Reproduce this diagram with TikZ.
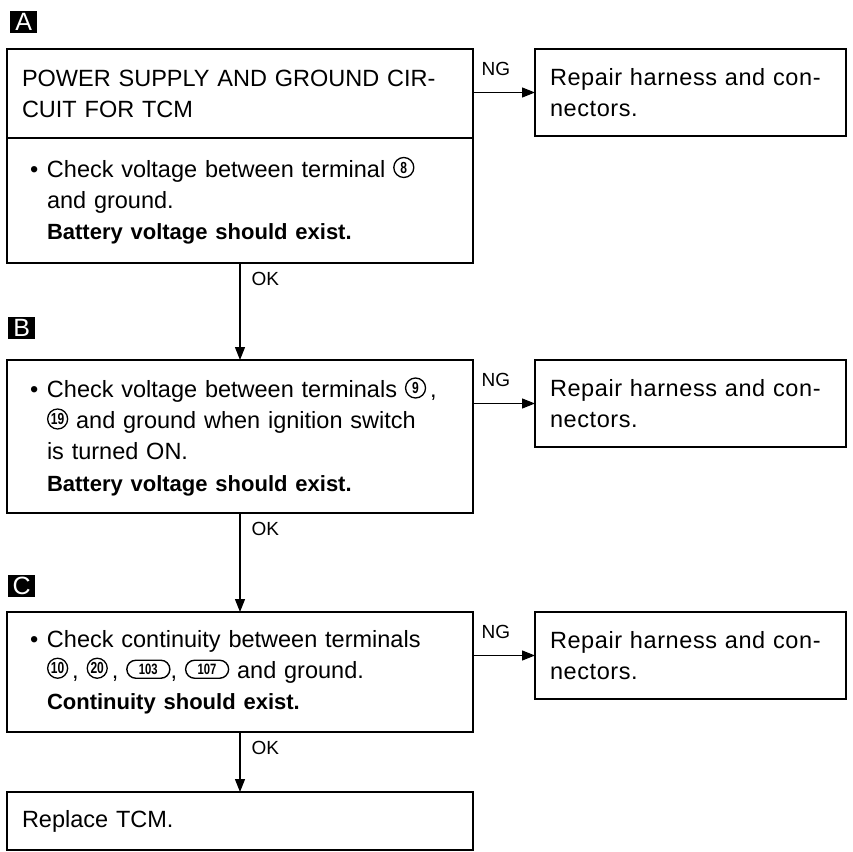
\documentclass[tikz,border=0pt]{standalone}
\usepackage{fontspec}
\setmainfont{Liberation Sans}
\usepackage{graphicx}
\usepackage{tikz}
\usetikzlibrary{arrows.meta,positioning}
\newcommand{\pin}[1]{\tikz[baseline=(p.south)]\node[draw,circle,line width=1.3pt,inner sep=0pt,outer sep=0pt,minimum size=20pt,yshift=-1pt,font=\fontsize{16}{16}\selectfont\bfseries](p){\scalebox{0.75}[1]{#1}};}
\newcommand{\pinlong}[1]{\tikz[baseline=(p.south)]\node[draw,rounded corners=9pt,line width=1.4pt,inner sep=0pt,outer sep=0pt,minimum height=18pt,minimum width=43pt,font=\fontsize{15}{15}\selectfont\bfseries](p){\scalebox{0.75}[1]{#1}};}
\newcommand{\bul}{\makebox[25pt][l]{\hspace{8pt}\textbullet}}
\newcommand{\ind}{\hspace*{25pt}}

\begin{document}
\begin{tikzpicture}[x=1pt,y=-1pt,
  every node/.style={font=\fontsize{23.5}{31}\selectfont},
  box/.style={draw,line width=1.8pt,outer sep=0pt,text width=436pt,
             inner xsep=15pt,inner ysep=0pt,align=left},
  fixbox/.style={draw,line width=1.8pt,outer sep=0pt,minimum height=87pt,
             text width=281pt,inner xsep=15pt,align=left,
             font=\fontsize{23.5}{31}\selectfont\addfontfeatures{LetterSpace=2.5}},
  tag/.style={fill=black,text=white,minimum width=27pt,minimum height=22pt,
             inner sep=0pt,font=\fontsize{25}{25}\selectfont},
  lbl/.style={font=\fontsize{19}{19}\selectfont,inner sep=0pt},
  arr/.style={-{Triangle[length=13pt,width=10pt]},line width=1.2pt}
]
\useasboundingbox (0,0) rectangle (853,851);
\node[box,minimum height=89pt,anchor=north west] (supply) at (7,49)
  {POWER SUPPLY AND GROUND CIR-\\CUIT FOR TCM};
\node[box,minimum height=125pt,below=0pt of supply] (checka)
  {\bul Check voltage between terminal \pin{8}\\
   \ind and ground.\\
   \ind{\bfseries\fontsize{22}{31}\selectfont Battery voltage should exist.}};
\node[box,minimum height=153pt,below=97pt of checka] (checkb)
  {\bul Check voltage between terminals \pin{9}\,,\\
   \ind\pin{19} and ground when ignition switch\\
   \ind is turned ON.\\
   \ind{\bfseries\fontsize{22}{31}\selectfont Battery voltage should exist.}};
\node[box,minimum height=120pt,below=99pt of checkb] (checkc)
  {\bul Check continuity between terminals\\
   \ind\pin{10}\,, \pin{20}\,, \pinlong{103}, \pinlong{107} and ground.\\
   \ind{\bfseries\fontsize{22}{31}\selectfont Continuity should exist.}};
\node[box,minimum height=58pt,below=60pt of checkc] (replace) {Replace TCM.};

\node[fixbox,right=62pt of supply.north east,anchor=north west] (repaira)
  {Repair harness and con-\\nectors.};
\node[fixbox,right=62pt of checkb.north east,anchor=north west] (repairb)
  {Repair harness and con-\\nectors.};
\node[fixbox,right=62pt of checkc.north east,anchor=north west] (repairc)
  {Repair harness and con-\\nectors.};

\node[tag,above=16pt of supply.north west,anchor=south west,xshift=3pt] (taga) {A};
\node[tag,above=21pt of checkb.north west,anchor=south west,xshift=1pt] (tagb) {B};
\node[tag,above=15pt of checkc.north west,anchor=south west,xshift=1pt] (tagc) {C};

\draw[arr] (repaira.west -| supply.east) -- node[lbl,pos=0,anchor=south west,xshift=8pt,yshift=16pt]{NG} (repaira.west);
\draw[arr] (repairb.west -| checkb.east) -- node[lbl,pos=0,anchor=south west,xshift=8pt,yshift=16pt]{NG} (repairb.west);
\draw[arr] (repairc.west -| checkc.east) -- node[lbl,pos=0,anchor=south west,xshift=8pt,yshift=16pt]{NG} (repairc.west);
\draw[arr] (checka) -- node[lbl,pos=0,anchor=north west,xshift=11pt,yshift=-9pt]{OK} (checkb);
\draw[arr] (checkb) -- node[lbl,pos=0,anchor=north west,xshift=11pt,yshift=-9pt]{OK} (checkc);
\draw[arr] (checkc) -- node[lbl,pos=0,anchor=north west,xshift=11pt,yshift=-9pt]{OK} (replace);
\end{tikzpicture}
\end{document}
